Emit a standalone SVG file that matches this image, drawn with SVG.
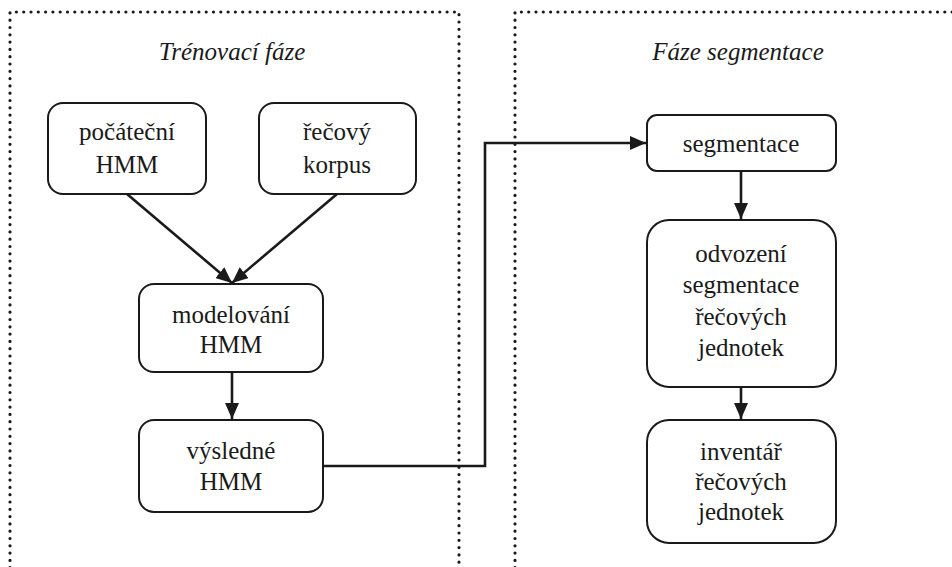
<svg xmlns="http://www.w3.org/2000/svg" width="952" height="567" viewBox="0 0 952 567">
<style>
.frame{fill:none;stroke:#1a1a1a;stroke-width:3.2;stroke-dasharray:0 7.3;stroke-linecap:round}
.box{fill:#fff;stroke:#1a1a1a;stroke-width:2}
.t{font-family:"Liberation Serif","DejaVu Serif",serif;font-size:25px;fill:#1a1a1a;text-anchor:middle}
.title{font-family:"Liberation Serif","DejaVu Serif",serif;font-size:25px;font-style:italic;fill:#1a1a1a;text-anchor:middle}
.c{fill:none;stroke:#1a1a1a;stroke-width:2.6}
</style>
<defs>
<marker id="ah" viewBox="0 0 16 14" refX="16" refY="7" markerWidth="16" markerHeight="14" markerUnits="userSpaceOnUse" orient="auto">
<path d="M0,0 L16,7 L0,14 Z" fill="#1a1a1a"/>
</marker>
</defs>
<rect width="952" height="567" fill="#fff"/>
<g id="frames">
<path class="frame" d="M10,575 L10,12 L459,12 L459,575"/>
<path class="frame" d="M515,575 L515,12 L960,12"/>
</g>
<text class="title" x="232" y="60">Trénovací fáze</text>
<text class="title" x="738" y="60">Fáze segmentace</text>
<g id="connectors">
<path class="c" d="M127,194 L232,283" marker-end="url(#ah)"/>
<path class="c" d="M337,194 L232,283" marker-end="url(#ah)"/>
<path class="c" d="M232,372 L232,419" marker-end="url(#ah)"/>
<path class="c" d="M323,466 L485,466 L485,143 L646,143" marker-end="url(#ah)"/>
<path class="c" d="M741,171 L741,219" marker-end="url(#ah)"/>
<path class="c" d="M741,387 L741,419" marker-end="url(#ah)"/>
</g>
<g id="pocatecni">
<rect class="box" x="48" y="103" width="158" height="91" rx="15"/>
<text class="t" x="127" y="140">počáteční</text>
<text class="t" x="127" y="173">HMM</text>
</g>
<g id="korpus">
<rect class="box" x="259" y="103" width="157" height="91" rx="15"/>
<text class="t" x="337" y="140">řečový</text>
<text class="t" x="337" y="173">korpus</text>
</g>
<g id="modelovani">
<rect class="box" x="139" y="284" width="184" height="88" rx="15"/>
<text class="t" x="231" y="323">modelování</text>
<text class="t" x="231" y="353">HMM</text>
</g>
<g id="vysledne">
<rect class="box" x="139" y="420" width="184" height="92" rx="15"/>
<text class="t" x="231" y="459">výsledné</text>
<text class="t" x="231" y="490">HMM</text>
</g>
<g id="segmentace">
<rect class="box" x="647" y="115" width="189" height="56" rx="10"/>
<text class="t" x="741" y="152">segmentace</text>
</g>
<g id="odvozeni">
<rect class="box" x="647" y="220" width="189" height="167" rx="22"/>
<text class="t" x="741" y="262">odvození</text>
<text class="t" x="741" y="293">segmentace</text>
<text class="t" x="741" y="325">řečových</text>
<text class="t" x="741" y="356">jednotek</text>
</g>
<g id="inventar">
<rect class="box" x="647" y="420" width="189" height="123" rx="22"/>
<text class="t" x="741" y="460">inventář</text>
<text class="t" x="741" y="490">řečových</text>
<text class="t" x="741" y="520">jednotek</text>
</g>
</svg>
